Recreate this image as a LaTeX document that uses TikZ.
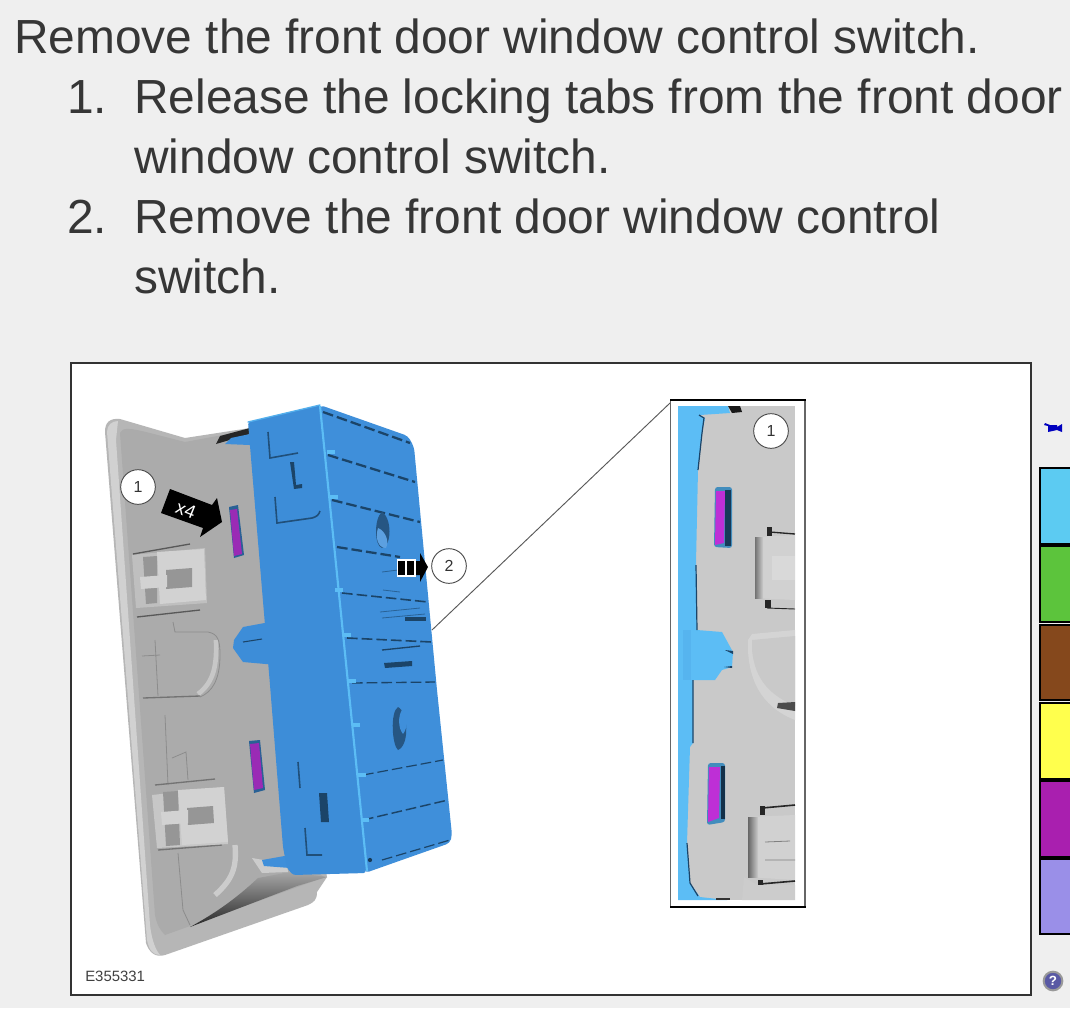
\documentclass[tikz,border=0pt]{standalone}
\usepackage{fontspec}
\setmainfont{Liberation Sans}
\definecolor{pagebg}{HTML}{EFEFEF}
\definecolor{txt}{HTML}{363636}
\definecolor{frameC}{HTML}{333333}
\definecolor{boxblue}{HTML}{3D8DD8}
\definecolor{sideblue}{HTML}{3F8FDA}
\definecolor{liteblue}{HTML}{5CBDF5}
\definecolor{dashC}{HTML}{1B4468}
\definecolor{plate}{HTML}{ABABAB}
\definecolor{flange}{HTML}{B6B6B6}
\definecolor{clipL}{HTML}{D2D2D2}
\definecolor{clipD}{HTML}{969696}
\definecolor{tabP}{HTML}{9A2BB5}
\definecolor{insetP}{HTML}{BE2FD6}
\definecolor{insetG}{HTML}{C9C9C9}
\definecolor{swA}{HTML}{5CCBF2}
\definecolor{swB}{HTML}{5CC43C}
\definecolor{swC}{HTML}{85481C}
\definecolor{swD}{HTML}{FFFF4D}
\definecolor{swE}{HTML}{A91FAF}
\definecolor{swF}{HTML}{9A8FE8}
\tikzset{
  para/.style={anchor=base west,inner sep=0pt,font=\fontsize{35.9}{43}\selectfont,text=txt},
  callout/.style={circle,draw=black!70,fill=white,line width=.7pt,minimum size=26pt,inner sep=0pt,font=\fontsize{12}{14}\selectfont,text=black!80},
  swatch/.style={draw=black,line width=2.2pt},
  grooves/.style={draw=dashC,line width=1.7pt,dash pattern=on 8pt off 3pt},
  facemark/.style={draw=dashC!85!sideblue,line width=1.2pt},
  fine/.style={draw=black!45,line width=.6pt},
}
\begin{document}
\begin{tikzpicture}[x=.75pt,y=-.75pt]
\useasboundingbox (0,0) rectangle (1070,1008);
\fill[pagebg] (0,0) rectangle (1070,1008);
% heading text
\node[para] (t0) at (14,53) {Remove the front door window control switch.};
\node[para] (n1) at (67,113) {1.};
\node[para] (t1) at (134,113) {Release the locking tabs from the front door};
\node[para] (t1b) at (134,173) {window control switch.};
\node[para] (n2) at (67,233) {2.};
\node[para] (t2) at (134,233) {Remove the front door window control};
\node[para] (t2b) at (134,293) {switch.};
% frame
\draw[frameC,line width=2.1pt,fill=white] (71,363) rectangle (1031,995);
% plate
\fill[flange] (105,432) .. controls (105,422) and (110,418) .. (120,419) -- (185,438) -- (250,428) -- (327,877) -- (317,892) .. controls (317,900) and (314,902) .. (308,905) -- (165,955) .. controls (155,958) and (149,952) .. (146,943) -- cycle;
\fill[plate] (120,433) .. controls (122,427) and (130,428) .. (150,433) -- (185,442) -- (250,430) -- (290,860) -- (325,877) -- (190,926) -- (165,935) .. controls (160,930) and (157,925) .. (155,915) -- cycle;
\fill[white!82!black] (107,432) .. controls (107,425) and (112,421) .. (118,421) -- (116,440) -- (150,925) .. controls (152,942) and (156,950) .. (160,955) .. controls (153,955) and (149,950) .. (147,940) -- cycle;
% recess
\draw[white!78!black,line width=3.5pt] (216,640) .. controls (217,665) and (214,682) .. (198,694);
\draw[fine] (173,622) -- (175,632) -- (208,632) .. controls (218,634) and (220,640) .. (220,655) .. controls (220,680) and (212,692) .. (200,697);
\draw[black!55,line width=1pt] (143,698) -- (200,696);
\draw[fine] (142,656) -- (160,655) (155,640) -- (158,696);
\draw[fine] (165,715) -- (168,785) (172,758) -- (186,752) -- (188,780);
\draw[black!55,line width=1pt] (155,785) -- (215,779);
\draw[black!55,line width=1pt] (158,850) -- (222,845);
% upper clip
\fill[white!75!black] (132,555) -- (205,548) -- (207,603) -- (136,608) -- cycle;
\fill[clipD] (143,557) -- (157,556) -- (157,603) -- (146,604) -- cycle;
\fill[clipL] (157,552) -- (204,549) -- (206,600) -- (160,604) -- cycle;
\fill[clipD] (166,570) -- (192,568) -- (192,587) -- (166,589) -- cycle;
\fill[clipL] (140,577) -- (167,575) -- (167,587) -- (141,589) -- cycle;
\draw[black!65,line width=1pt] (133,554) -- (190,544);
\draw[black!65,line width=1pt] (137,617) -- (200,610);
% lower clip
\fill[white!78!black] (152,795) -- (224,787) -- (228,844) -- (157,848) -- cycle;
\fill[clipD] (163,792) -- (178,791) -- (180,845) -- (166,846) -- cycle;
\fill[clipL] (178,790) -- (224,787) -- (228,842) -- (182,845) -- cycle;
\fill[clipD] (187,808) -- (213,806) -- (214,823) -- (188,825) -- cycle;
\fill[clipL] (161,812) -- (188,810) -- (188,823) -- (162,825) -- cycle;
% lower recess with shadow
\shade[top color=black!35,bottom color=black!85] (190,927) .. controls (225,908) and (245,890) .. (258,878) -- (290,872) -- (327,877) -- (297,886) -- cycle;
\draw[white!80!black,line width=4pt] (235,845) .. controls (237,868) and (232,880) .. (215,895);
\draw[fine] (178,853) -- (183,910) -- (190,925);
\fill[white!80!black] (252,858) -- (287,864) -- (288,872) -- (262,873) -- cycle;
% clip at top of box
\fill[black!85] (216,444) -- (220,436) -- (250,428) -- (250,434) -- cycle;
\fill[sideblue] (225,444) -- (231,438) -- (250,434) -- (250,445) -- cycle;
\fill[sideblue] (262,860) -- (290,855) -- (290,868) -- (264,866) -- cycle;
% purple tabs
\fill[dashC!60!boxblue] (229,507) -- (238,505) -- (244,555) -- (234,558) -- cycle;
\fill[tabP] (230,510) -- (237,509) -- (242,554) -- (234,556) -- cycle;
\fill[dashC!60!boxblue] (249,741) -- (260,740) -- (265,790) -- (254,793) -- cycle;
\fill[tabP] (250,744) -- (259,743) -- (263,788) -- (254,790) -- cycle;
% blue side tab
\fill[boxblue] (243,627) -- (270,622) -- (277,665) -- (243,662) -- (233,648) -- (234,640) -- cycle;
\fill[liteblue] (266,623) -- (272,622) -- (277,665) -- (271,665) -- cycle;
\draw[dashC,line width=.8pt] (243,642) -- (262,639);
% blue box
\fill[sideblue,rounded corners=3pt] (320,405) -- (408,436) -- (414,447) -- (437,690) -- (452,835) -- (450,843) -- (365,873) -- cycle;
\fill[boxblue,rounded corners=2pt] (248,422) -- (320,405) -- (366,873) -- (293,875) -- (287,868) -- (283,847) -- (270,685) -- cycle;
\draw[liteblue,line width=1.6pt] (320,406) -- (367,871);
\draw[liteblue!70!boxblue,line width=1pt,line cap=round] (248,422) -- (320,405);
% grooves on the side
\draw[grooves] (323,412) -- (410,443);
\draw[grooves] (328,455) -- (415,482);
\draw[grooves] (332,500) -- (420,522);
\draw[grooves] (337,547) -- (400,557);
\draw[grooves,line width=1.2pt] (342,593) -- (428,602);
\draw[grooves,line width=1.2pt] (347,638) -- (432,642);
\draw[grooves,line width=1pt] (352,683) -- (435,682);
\draw[grooves,line width=.9pt] (363,775) -- (443,760);
\draw[grooves,line width=1.1pt] (363,820) -- (448,800);
\draw[grooves,line width=.9pt] (382,860) -- (450,840);
\foreach \gx/\gy in {331/452,334/497,339/590,347/635,352/681,356/725,362/775,365/820}
  \fill[liteblue] (\gx-4,\gy-2) rectangle (\gx+4,\gy+2);
% moulded details on side
\fill[sideblue!60!black] (382,512) .. controls (392,518) and (392,546) .. (382,548) .. controls (374,546) and (374,518) .. (382,512);
\fill[sideblue!85!white] (378,528) .. controls (384,530) and (390,540) .. (386,548) .. controls (378,548) and (375,538) .. (378,528);
\fill[sideblue!60!black] (398,707) .. controls (408,712) and (410,745) .. (398,750) .. controls (392,745) and (390,712) .. (398,707);
\fill[sideblue] (402,710) .. controls (408,715) and (408,728) .. (403,734) .. controls (398,728) and (398,716) .. (402,710);
\draw[dashC!60!sideblue,line width=.6pt] (380,612) -- (420,608) (382,618) -- (425,614) (382,572) -- (398,570) (383,590) -- (400,592);
\fill[dashC] (405,617) rectangle (426,621);
\fill[dashC] (384,663) -- (412,661) -- (412,666) -- (385,668) -- cycle;
\draw[dashC,line width=1pt] (382,650) -- (420,646);
\fill[dashC!85!black] (370,860) circle (1.6pt);
% marks on the front face
\draw[facemark] (268,432) -- (270,458) -- (298,453);
\fill[dashC] (290,462) -- (294,462) -- (296,485) -- (302,484) -- (302,488) -- (294,489) -- cycle;
\draw[facemark] (275,497) -- (277,523) -- (312,518) .. controls (316,517) and (319,515) .. (320,511);
\draw[facemark] (298,762) -- (300,788);
\fill[dashC] (319,793) -- (327,793) -- (329,822) -- (321,822) -- cycle;
\draw[facemark] (305,828) -- (307,855) -- (322,855);
% leader
\coordinate (leadA) at (432,630);
\coordinate (leadB) at (670,403);
\draw[black!65,line width=.7pt] (leadA) -- (leadB);
% x4 arrow
\fill[black] (170,489) -- (212,505) -- (217,498) -- (222,522) -- (200,537) -- (203,528) -- (161,513) -- cycle;
\node[rotate=-22,text=white,inner sep=0pt,font=\fontsize{14}{16}\selectfont] (xfour) at (186,510) {x4};
\node[callout] (c1) at (138,487) {1};
% move arrow
\fill[white] (397,559) rectangle (416,577);
\fill[black] (398,561) rectangle (405,575);
\fill[black] (407,561) rectangle (414,575);
\fill[black] (416,561) -- (420,561) -- (420,553) -- (428,567) -- (420,582) -- (420,575) -- (416,575) -- cycle;
\node[callout] (c2) at (449,566) {2};
% caption
\node[anchor=base west,inner sep=0pt,font=\fontsize{11.2}{13}\selectfont,text=black!75] (code) at (85,981) {E355331};
% inset
\fill[insetG] (678,406) rectangle (795,900);
\fill[liteblue] (678,406) -- (728,406) -- (730,413) -- (700,415) -- (705,418) -- (702,433) -- (698,470) -- (696,563) -- (697,630) -- (722,632) -- (733,652) -- (732,667) -- (722,670) -- (715,680) -- (693,680) -- (693,743) -- (690,747) -- (687,843) -- (690,883) -- (700,897) -- (727,900) -- (678,900) -- cycle;
\fill[liteblue!80!boxblue] (683,630) rectangle (691,680);
\draw[dashC,line width=.9pt] (699,415) -- (704,418) -- (702,433) -- (698,470) (696,565) -- (697,630);
\draw[dashC,line width=.9pt] (693,680) -- (693,743) (687,843) -- (690,883) -- (698,896);
\fill[black!90] (728,406) -- (740,406) -- (742,412) -- (732,413) -- cycle;
\fill[black!80] (716,898) rectangle (730,900);
\fill[dashC] (725,650) -- (733,651) -- (733,654) -- cycle;
\fill[dashC] (724,667) -- (732,666) -- (732,668) -- cycle;
% inset tabs
\fill[liteblue!60!dashC,rounded corners=2pt] (715,487) -- (732,487) -- (732,548) -- (714,547) -- cycle;
\fill[insetP] (716,491) -- (725,491) -- (724,543) -- (715,545) -- cycle;
\fill[dashC!85!black] (725,490) rectangle (731,546);
\fill[liteblue!60!dashC,rounded corners=2pt] (708,763) -- (725,763) -- (725,822) -- (707,825) -- cycle;
\fill[insetP] (709,767) -- (720,767) -- (719,818) -- (708,822) -- cycle;
\fill[dashC!70!black] (721,766) rectangle (725,819);
% inset upper clip
\fill[white!82!black] (755,537) -- (795,535) -- (795,600) -- (755,598) -- cycle;
\shade[left color=black!55,right color=black!20] (755,537) rectangle (763,598);
\fill[white!85!black] (772,556) rectangle (795,580);
\draw[black!85,line width=1pt] (770,532) -- (795,534);
\draw[black!85,line width=.7pt] (767,608) -- (795,609);
\fill[black!85] (767,527) rectangle (772,536);
\fill[black!85] (765,600) rectangle (771,608);
% inset recess
\fill[white!83!black] (748,650) -- (748,640) -- (752,634) -- (795,630) -- (795,720) .. controls (775,712) and (750,695) .. (748,650);
\fill[insetG] (752,640) -- (795,636) -- (795,706) .. controls (770,695) and (755,680) .. (752,650) -- cycle;
\fill[black!70] (778,703) -- (795,702) -- (795,711) -- (777,708) -- cycle;
% inset lower clip
\fill[white!82!black] (748,817) -- (795,815) -- (795,880) -- (748,877) -- cycle;
\shade[left color=black!60,right color=black!20] (748,817) rectangle (758,877);
\draw[black!85,line width=1.2pt] (762,808) -- (795,805);
\draw[black!85,line width=1.2pt] (760,884) -- (795,881);
\fill[black!85] (760,806) rectangle (765,815);
\fill[black!85] (758,880) rectangle (763,888);
\draw[black!50,line width=.6pt] (765,842) -- (790,841) (765,860) -- (795,860);
\fill[white!80!black] (744,877) -- (757,885) -- (795,885) -- (795,900) -- (742,900) -- cycle;
% inset frame
\draw[black!60,line width=1pt] (670.5,400) -- (670.5,907);
\draw[black!60,line width=1.2pt] (805,400) -- (805,907);
\draw[black,line width=1.7pt] (670,400) -- (806,400);
\draw[black,line width=1.7pt] (670,907) -- (806,907);
\node[callout] (c3) at (771,431) {1};
% side swatches
\draw[swatch,fill=swA] (1040,468) rectangle (1072,544);
\draw[swatch,fill=swB] (1040,546) rectangle (1072,622);
\draw[swatch,fill=swC] (1040,625) rectangle (1072,700);
\draw[swatch,fill=swD] (1040,703) rectangle (1072,779);
\draw[swatch,fill=swE] (1040,781) rectangle (1072,857);
\draw[swatch,fill=swF] (1040,859) rectangle (1072,934);
% camera icon
\fill[blue!75!black] (1045,423) -- (1050,425) -- (1057,425) -- (1057,427) -- (1062,424) -- (1062,432) -- (1057,430) -- (1048,432) -- (1048,426) -- (1044,425) -- cycle;
% help icon
\node[circle,draw=black!40,line width=1.5pt,fill=blue!45!black!65!white,minimum size=14pt,inner sep=0pt,text=white,font=\bfseries\fontsize{10}{12}\selectfont] (helpI) at (1053,981) {?};
\end{tikzpicture}
\end{document}
